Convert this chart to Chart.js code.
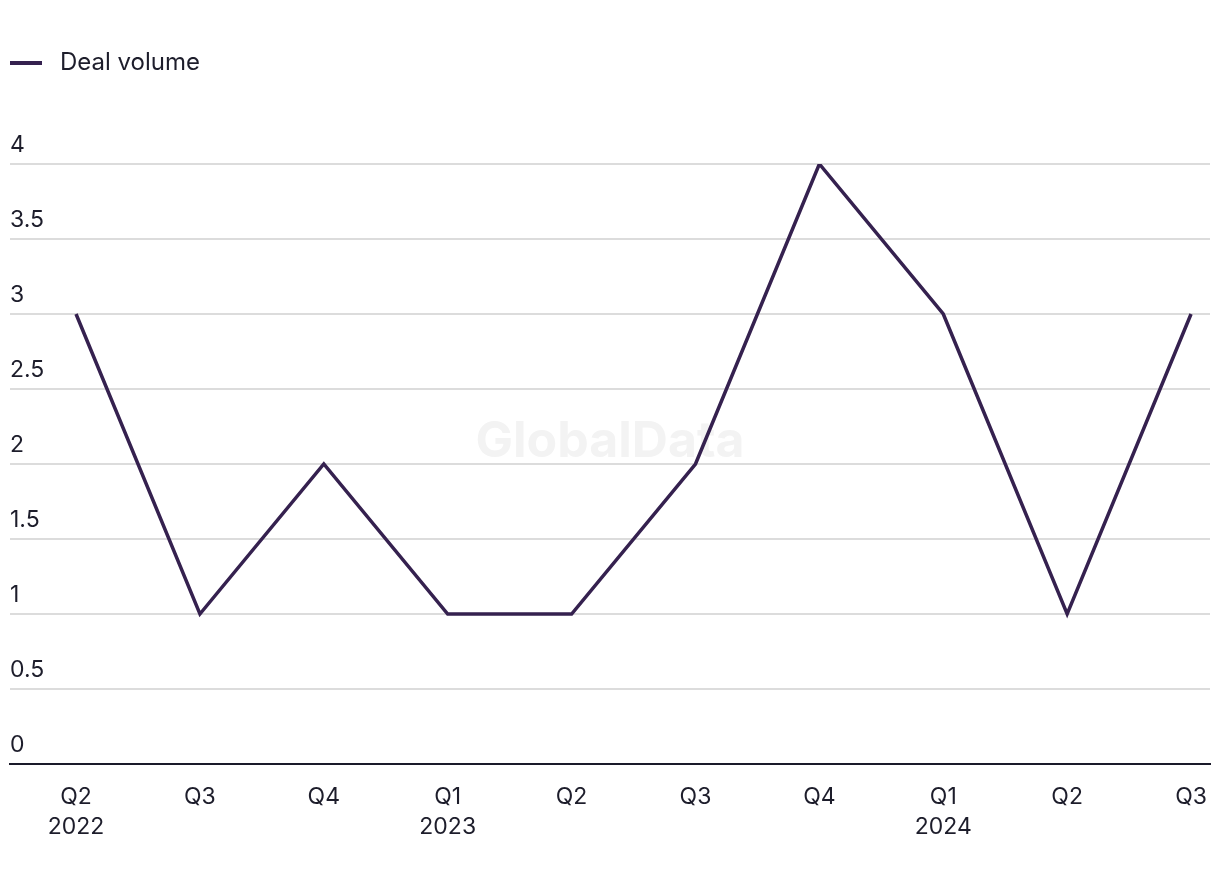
<!DOCTYPE html>
<html>
<head>
<meta charset="utf-8">
<script src="https://cdn.jsdelivr.net/npm/chart.js@4.4.0/dist/chart.umd.min.js"></script>
<style>
  html, body { margin: 0; padding: 0; background: #ffffff; }
  #wrap { width: 1220px; height: 884px; position: relative; }
</style>
</head>
<body>
<div id="wrap"><canvas id="c" width="1220" height="884"></canvas></div>
<script>
const quarters = ['Q2', 'Q3', 'Q4', 'Q1', 'Q2', 'Q3', 'Q4', 'Q1', 'Q2', 'Q3'];
const years = ['2022', '', '', '2023', '', '', '', '2024', '', ''];
const dealVolume = [3, 1, 2, 1, 1, 2, 4, 3, 1, 3];
const yTicks = [0, 0.5, 1, 1.5, 2, 2.5, 3, 3.5, 4];
const yTickLabels = ['0', '0.5', '1', '1.5', '2', '2.5', '3', '3.5', '4'];

const seriesName = 'Deal volume';
const lineColor = '#35214f';
const textColor = '#1d1d2b';
const fontFamily = 'Inter, "Liberation Sans", Arial, sans-serif';

const points = dealVolume.map((v, i) => ({ x: i, y: v }));

// legend sample image: short thick line with space after it
const legendImg = document.createElement('canvas');
legendImg.width = 38; legendImg.height = 4;
(function () {
  const g = legendImg.getContext('2d');
  g.fillStyle = lineColor;
  g.fillRect(0, 0, 32, 4);
})();

const watermark = {
  id: 'watermark',
  beforeDraw(chart) {
    const { ctx, chartArea } = chart;
    ctx.save();
    ctx.font = 'bold 50px ' + fontFamily;
    ctx.fillStyle = '#f3f3f3';
    ctx.textAlign = 'center';
    ctx.textBaseline = 'middle';
    ctx.fillText('GlobalData', (chartArea.left + chartArea.right) / 2, 442);
    ctx.restore();
  }
};

const legendSpace = {
  id: 'legendSpace',
  beforeInit(chart) {
    const lg = chart.legend;
    if (!lg) return;
    const fit = lg.fit;
    lg.fit = function () {
      fit.call(this);
      this.height = 113;
    };
  }
};

new Chart(document.getElementById('c'), {
  type: 'line',
  data: {
    datasets: [{
      label: seriesName,
      data: points,
      borderColor: lineColor,
      backgroundColor: lineColor,
      borderWidth: 3.5,
      pointRadius: 0,
      pointHoverRadius: 0,
      tension: 0,
      fill: false
    }]
  },
  options: {
    responsive: false,
    animation: false,
    events: [],
    layout: { padding: { left: 10, right: 10, top: 51, bottom: 0 } },
    plugins: {
      legend: {
        display: true,
        position: 'top',
        align: 'start',
        labels: {
          usePointStyle: true,
          pointStyle: legendImg,
          pointStyleWidth: 38,
          padding: 0,
          color: textColor,
          font: { family: fontFamily, size: 24 }
        }
      },
      tooltip: { enabled: false }
    },
    scales: {
      x: {
        type: 'linear',
        min: -0.533,
        max: 9.153,
        afterFit(scale) {
          scale.height = 120;
          scale.paddingLeft = 0;
          scale.paddingRight = 0;
        },
        grid: { display: false, drawTicks: false },
        border: { display: true, color: '#1a1a2a', width: 2 },
        ticks: {
          stepSize: 1,
          includeBounds: false,
          autoSkip: false,
          maxRotation: 0,
          minRotation: 0,
          padding: 18,
          color: textColor,
          font: { family: fontFamily, size: 23, lineHeight: 1.3 },
          callback(value) {
            const i = Math.round(value);
            if (Math.abs(value - i) > 1e-6 || i < 0 || i >= quarters.length) return '';
            return years[i] ? [quarters[i], years[i]] : quarters[i];
          }
        }
      },
      y: {
        min: yTicks[0],
        max: yTicks[yTicks.length - 1],
        afterBuildTicks(scale) { scale.ticks = yTicks.map(v => ({ value: v })); },
        grid: { color: '#dcdcdc', lineWidth: 2, drawTicks: false },
        border: { display: false },
        ticks: {
          mirror: true,
          padding: 0,
          labelOffset: -19,
          color: textColor,
          font: { family: fontFamily, size: 23 },
          callback(value) {
            const i = yTicks.indexOf(value);
            return i >= 0 ? yTickLabels[i] : '';
          }
        }
      }
    }
  },
  plugins: [watermark, legendSpace]
});
</script>
</body>
</html>
